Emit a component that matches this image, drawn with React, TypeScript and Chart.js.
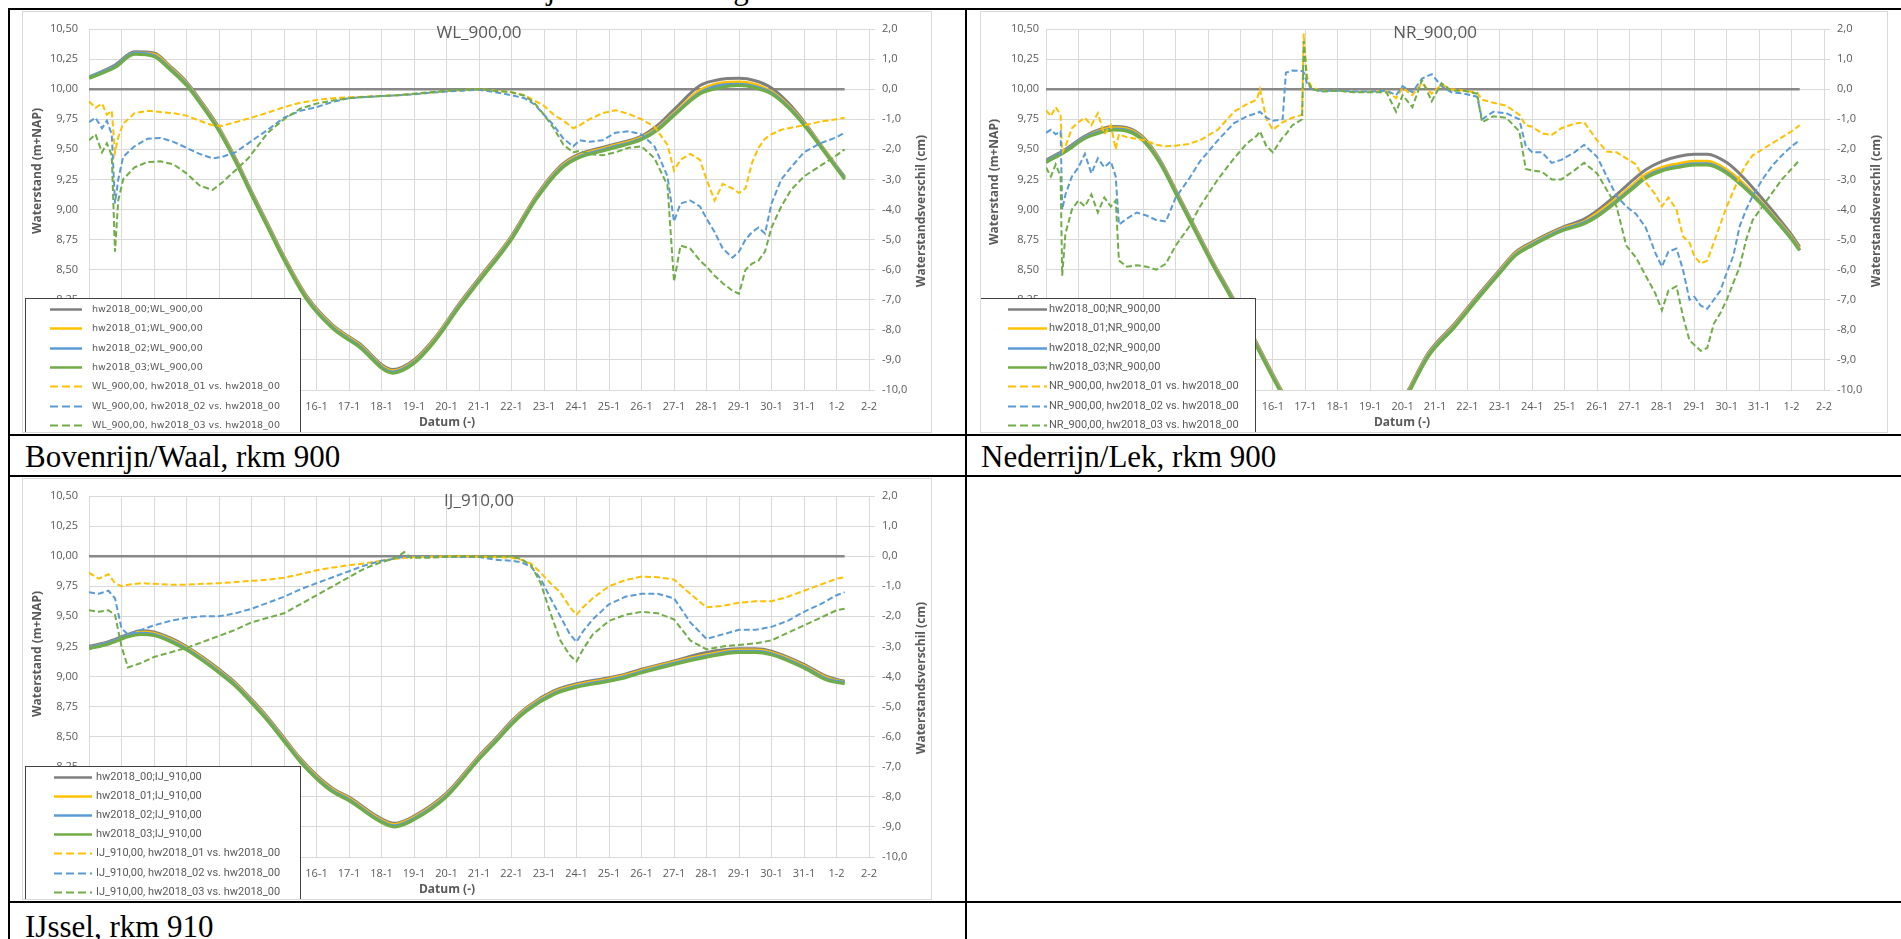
import React, { useEffect, useRef } from 'react';
import { Chart, registerables } from 'chart.js';

Chart.register(...registerables);

// ---------- axis / tick labels ----------
const X_TICK_LABELS = ['9-1','10-1','11-1','12-1','13-1','14-1','15-1','16-1','17-1','18-1','19-1','20-1','21-1','22-1','23-1','24-1','25-1','26-1','27-1','28-1','29-1','30-1','31-1','1-2','2-2'];
const LEFT_AXIS = { min: 7.5, max: 10.5, step: 0.25 };
const RIGHT_AXIS = { min: -10, max: 2, step: 1 };

// hw2018_00 vs hw2018_00 (reference difference = 0)
const BASE_DIFF_T = [0, 23.25];
const BASE_DIFF = [0, 0];

// ---------- WL_900,00 ----------
const WL_SOLID_T = [0, 0.8, 1.4, 2.0, 2.5, 3.0, 3.5, 4.0, 4.5, 5.0, 5.5, 6.0, 6.7, 7.5, 8.3, 9.35, 10.0, 10.6, 11.4, 12.0, 13.0, 13.75, 14.5, 15.0, 16.0, 17.0, 17.5, 18.0, 18.8, 19.4, 20.0, 20.5, 21.0, 21.5, 22.0, 22.7, 23.25];
const WL_00 = [10.10, 10.20, 10.31, 10.30, 10.19, 10.06, 9.88, 9.68, 9.43, 9.15, 8.88, 8.61, 8.28, 8.04, 7.89, 7.67, 7.75, 7.92, 8.22, 8.43, 8.78, 9.11, 9.36, 9.45, 9.53, 9.61, 9.70, 9.83, 10.03, 10.08, 10.09, 10.07, 10.01, 9.89, 9.73, 9.47, 9.27];
const WL_01 = [10.10, 10.19, 10.30, 10.29, 10.18, 10.05, 9.87, 9.67, 9.42, 9.14, 8.87, 8.60, 8.27, 8.03, 7.88, 7.66, 7.74, 7.91, 8.21, 8.42, 8.77, 9.10, 9.35, 9.44, 9.52, 9.60, 9.68, 9.80, 9.99, 10.05, 10.06, 10.04, 9.98, 9.87, 9.72, 9.47, 9.26];
const WL_02 = [10.10, 10.19, 10.30, 10.28, 10.17, 10.04, 9.86, 9.66, 9.41, 9.13, 8.86, 8.59, 8.26, 8.02, 7.87, 7.65, 7.73, 7.90, 8.20, 8.41, 8.76, 9.09, 9.34, 9.43, 9.51, 9.59, 9.67, 9.79, 9.97, 10.03, 10.04, 10.02, 9.97, 9.86, 9.71, 9.46, 9.26];
const WL_03 = [10.09, 10.18, 10.29, 10.27, 10.16, 10.03, 9.85, 9.65, 9.40, 9.12, 8.85, 8.58, 8.25, 8.01, 7.86, 7.64, 7.72, 7.89, 8.19, 8.40, 8.75, 9.08, 9.33, 9.42, 9.50, 9.58, 9.66, 9.78, 9.96, 10.01, 10.03, 10.01, 9.96, 9.85, 9.70, 9.45, 9.25];
const WL_DASH_T = [0, 0.2, 0.4, 0.55, 0.7, 0.8, 0.9, 1.05, 1.4, 1.8, 2.2, 2.6, 3.0, 3.4, 3.8, 4.1, 4.5, 4.9, 5.5, 6.0, 6.5, 7.0, 7.5, 8.0, 8.5, 9.0, 9.5, 10.0, 10.5, 11.0, 11.5, 12.0, 12.5, 13.0, 13.4, 13.7, 14.0, 14.3, 14.6, 14.9, 15.1, 15.4, 15.8, 16.2, 16.6, 17.0, 17.4, 17.8, 18.0, 18.2, 18.5, 18.8, 19.0, 19.25, 19.5, 19.8, 20.0, 20.2, 20.4, 20.6, 20.8, 21.0, 21.3, 21.6, 22.0, 22.5, 23.0, 23.25];
const WL_D01 = [-0.40, -0.62, -0.48, -0.85, -0.72, -2.10, -1.60, -1.15, -0.80, -0.72, -0.76, -0.80, -0.88, -1.05, -1.20, -1.22, -1.10, -0.98, -0.78, -0.60, -0.45, -0.36, -0.30, -0.27, -0.25, -0.22, -0.20, -0.16, -0.12, -0.07, -0.03, 0.00, -0.05, -0.10, -0.20, -0.38, -0.55, -0.85, -1.05, -1.30, -1.20, -1.00, -0.80, -0.70, -0.82, -1.00, -1.25, -1.85, -2.70, -2.35, -2.15, -2.35, -3.00, -3.70, -3.15, -3.30, -3.45, -3.30, -2.45, -1.95, -1.65, -1.50, -1.35, -1.28, -1.20, -1.08, -1.00, -0.95];
const WL_D02 = [-1.10, -0.95, -1.30, -1.05, -1.50, -3.80, -3.00, -2.25, -1.90, -1.65, -1.62, -1.75, -1.95, -2.15, -2.30, -2.25, -2.10, -1.80, -1.35, -0.95, -0.72, -0.60, -0.42, -0.30, -0.26, -0.23, -0.20, -0.17, -0.12, -0.08, -0.05, -0.02, -0.10, -0.20, -0.30, -0.50, -0.85, -1.20, -1.65, -1.90, -1.70, -1.75, -1.70, -1.45, -1.40, -1.50, -1.90, -2.90, -4.40, -3.80, -3.70, -3.90, -4.30, -4.75, -5.30, -5.60, -5.40, -5.00, -4.75, -4.60, -4.80, -3.80, -3.00, -2.60, -2.10, -1.80, -1.60, -1.45];
const WL_D03 = [-1.70, -1.50, -2.10, -1.80, -2.20, -5.40, -3.70, -3.00, -2.60, -2.42, -2.40, -2.50, -2.80, -3.20, -3.35, -3.10, -2.70, -2.30, -1.45, -1.00, -0.65, -0.48, -0.38, -0.30, -0.26, -0.23, -0.20, -0.15, -0.10, -0.05, -0.02, 0.00, -0.05, -0.10, -0.22, -0.45, -0.85, -1.30, -1.85, -2.10, -2.05, -2.15, -2.20, -2.10, -1.95, -1.90, -2.30, -3.20, -6.40, -5.20, -5.30, -5.70, -5.90, -6.20, -6.45, -6.70, -6.80, -6.00, -5.80, -5.70, -5.40, -4.60, -3.90, -3.35, -2.90, -2.55, -2.20, -2.00];

// ---------- NR_900,00 ----------
const NR_SOLID_T = [0, 0.6, 1.2, 1.7, 2.1, 2.5, 3.0, 3.5, 4.1, 4.6, 5.1, 5.8, 6.5, 7.2, 8.0, 9.0, 9.5, 10.0, 11.0, 11.2, 11.8, 12.6, 13.3, 14.0, 14.5, 15.0, 15.5, 16.0, 16.6, 17.0, 17.5, 18.0, 18.5, 19.0, 19.5, 20.0, 20.4, 21.0, 21.5, 22.0, 22.5, 23.0, 23.25];
const NR_00 = [9.41, 9.50, 9.61, 9.67, 9.69, 9.68, 9.60, 9.42, 9.11, 8.85, 8.59, 8.25, 7.89, 7.53, 7.18, 6.93, 6.91, 6.98, 7.41, 7.51, 7.81, 8.05, 8.28, 8.50, 8.65, 8.73, 8.80, 8.86, 8.92, 8.99, 9.10, 9.22, 9.33, 9.40, 9.44, 9.46, 9.46, 9.39, 9.27, 9.12, 8.96, 8.79, 8.69];
const NR_01 = [9.40, 9.49, 9.60, 9.66, 9.68, 9.67, 9.59, 9.41, 9.10, 8.84, 8.58, 8.24, 7.88, 7.52, 7.17, 6.92, 6.90, 6.97, 7.40, 7.50, 7.80, 8.04, 8.27, 8.49, 8.64, 8.72, 8.79, 8.85, 8.90, 8.97, 9.07, 9.18, 9.29, 9.35, 9.38, 9.40, 9.40, 9.33, 9.22, 9.08, 8.93, 8.77, 8.67];
const NR_02 = [9.40, 9.49, 9.60, 9.65, 9.67, 9.66, 9.58, 9.40, 9.09, 8.83, 8.57, 8.23, 7.87, 7.51, 7.16, 6.91, 6.89, 6.96, 7.39, 7.49, 7.79, 8.03, 8.26, 8.48, 8.63, 8.71, 8.78, 8.84, 8.89, 8.95, 9.05, 9.16, 9.27, 9.33, 9.36, 9.38, 9.38, 9.31, 9.20, 9.07, 8.92, 8.76, 8.66];
const NR_03 = [9.39, 9.48, 9.59, 9.64, 9.66, 9.65, 9.57, 9.39, 9.08, 8.82, 8.56, 8.22, 7.86, 7.50, 7.15, 6.90, 6.88, 6.95, 7.38, 7.48, 7.78, 8.02, 8.25, 8.47, 8.62, 8.70, 8.77, 8.83, 8.88, 8.94, 9.04, 9.15, 9.26, 9.32, 9.35, 9.37, 9.37, 9.30, 9.19, 9.06, 8.91, 8.75, 8.66];
const NR_DASH_T = [0, 0.15, 0.3, 0.45, 0.5, 0.6, 0.8, 1.0, 1.2, 1.4, 1.6, 1.8, 2.0, 2.15, 2.25, 2.5, 2.8, 3.1, 3.4, 3.7, 4.0, 4.4, 4.75, 5.3, 5.8, 6.2, 6.5, 6.6, 6.8, 7.0, 7.3, 7.4, 7.6, 7.9, 7.95, 8.05, 8.2, 8.5, 9.0, 9.5, 10.0, 10.5, 10.8, 11.0, 11.3, 11.6, 11.9, 12.2, 12.5, 12.9, 13.3, 13.45, 13.8, 14.2, 14.6, 14.8, 15.0, 15.3, 15.6, 15.9, 16.3, 16.6, 17.0, 17.3, 17.6, 17.9, 18.2, 18.5, 18.8, 19.0, 19.2, 19.45, 19.65, 19.85, 20.0, 20.2, 20.4, 20.6, 20.8, 21.0, 21.2, 21.4, 21.6, 21.8, 22.1, 22.4, 22.7, 23.0, 23.25];
const NR_D01 = [-0.70, -0.90, -0.60, -0.85, -2.10, -1.90, -1.30, -1.10, -0.95, -1.20, -0.80, -1.50, -1.20, -2.00, -1.50, -1.60, -1.65, -1.72, -1.85, -1.90, -1.88, -1.82, -1.70, -1.35, -0.75, -0.50, -0.35, 0.00, -1.00, -1.35, -1.10, -1.05, -0.95, -0.85, 1.85, 0.40, 0.05, -0.05, -0.05, -0.10, -0.08, -0.05, -0.30, 0.05, -0.20, 0.20, -0.15, 0.15, 0.00, -0.05, -0.12, -0.35, -0.45, -0.55, -0.85, -1.20, -1.25, -1.47, -1.52, -1.30, -1.15, -1.10, -1.70, -2.07, -2.10, -2.30, -2.50, -3.10, -3.50, -3.90, -3.60, -4.00, -4.90, -5.10, -5.55, -5.80, -5.70, -5.10, -4.50, -3.90, -3.40, -2.90, -2.50, -2.20, -2.00, -1.80, -1.60, -1.40, -1.20];
const NR_D02 = [-1.45, -1.35, -1.50, -1.40, -4.00, -3.50, -2.90, -2.60, -2.15, -2.80, -2.30, -2.60, -2.40, -2.90, -4.50, -4.30, -4.10, -4.20, -4.35, -4.40, -3.60, -3.00, -2.40, -1.70, -1.13, -0.90, -0.80, -0.75, -0.95, -1.05, -1.00, 0.55, 0.62, 0.60, 0.55, 0.20, 0.00, -0.05, -0.05, -0.08, -0.08, -0.05, -0.20, 0.10, -0.10, 0.35, 0.50, 0.10, -0.10, -0.15, -0.25, -1.00, -0.75, -0.80, -1.00, -1.90, -2.10, -2.10, -2.45, -2.35, -2.10, -1.85, -2.25, -2.90, -3.55, -3.90, -4.15, -4.60, -5.45, -5.90, -5.40, -5.30, -6.00, -7.00, -6.90, -7.20, -7.30, -7.00, -6.70, -6.10, -5.55, -4.55, -4.00, -3.55, -3.00, -2.55, -2.20, -1.90, -1.70];
const NR_D03 = [-2.60, -2.90, -2.50, -2.90, -6.20, -4.80, -4.00, -3.70, -3.90, -3.50, -4.10, -3.60, -3.90, -3.70, -5.70, -5.90, -5.85, -5.90, -6.00, -5.80, -5.20, -4.60, -3.90, -3.00, -2.30, -1.80, -1.55, -1.40, -1.90, -2.10, -1.60, -1.50, -1.20, -1.00, 1.60, 0.30, 0.00, -0.08, -0.05, -0.10, -0.10, -0.10, -0.75, -0.20, -0.60, 0.30, -0.40, 0.20, -0.05, -0.05, -0.15, -1.10, -0.90, -0.95, -1.40, -2.65, -2.70, -2.75, -3.00, -3.00, -2.70, -2.45, -2.80, -3.35, -3.90, -5.20, -5.60, -6.20, -6.80, -7.35, -6.70, -6.55, -7.55, -8.35, -8.50, -8.70, -8.60, -7.80, -7.45, -7.00, -6.45, -5.90, -5.00, -4.35, -3.90, -3.45, -3.00, -2.65, -2.35];

// ---------- IJ_910,00 ----------
const IJ_SOLID_T = [0, 0.6, 1.2, 1.6, 2.0, 2.5, 3.0, 3.5, 4.0, 4.5, 5.0, 5.5, 6.0, 6.5, 7.0, 7.5, 8.05, 8.85, 9.4, 10.0, 11.0, 12.0, 12.6, 13.0, 13.5, 14.3, 15.0, 16.0, 16.5, 17.0, 18.0, 19.0, 20.0, 20.5, 21.0, 22.0, 22.7, 23.25];
const IJ_00 = [9.25, 9.29, 9.35, 9.38, 9.37, 9.32, 9.25, 9.16, 9.06, 8.95, 8.81, 8.66, 8.49, 8.32, 8.18, 8.07, 7.99, 7.84, 7.78, 7.84, 8.03, 8.34, 8.51, 8.63, 8.75, 8.88, 8.94, 8.99, 9.02, 9.06, 9.13, 9.20, 9.23, 9.23, 9.21, 9.10, 9.00, 8.96];
const IJ_01 = [9.24, 9.28, 9.34, 9.37, 9.36, 9.31, 9.24, 9.15, 9.05, 8.94, 8.80, 8.65, 8.48, 8.31, 8.17, 8.06, 7.98, 7.83, 7.77, 7.83, 8.02, 8.33, 8.50, 8.62, 8.74, 8.87, 8.93, 8.98, 9.01, 9.05, 9.12, 9.18, 9.22, 9.22, 9.20, 9.09, 8.99, 8.95];
const IJ_02 = [9.24, 9.28, 9.34, 9.36, 9.35, 9.30, 9.23, 9.14, 9.04, 8.93, 8.79, 8.64, 8.47, 8.30, 8.16, 8.05, 7.97, 7.82, 7.76, 7.82, 8.01, 8.32, 8.49, 8.61, 8.73, 8.86, 8.92, 8.97, 9.00, 9.04, 9.11, 9.17, 9.21, 9.21, 9.19, 9.08, 8.98, 8.95];
const IJ_03 = [9.23, 9.27, 9.33, 9.35, 9.34, 9.29, 9.22, 9.13, 9.03, 8.92, 8.78, 8.63, 8.46, 8.29, 8.15, 8.04, 7.96, 7.81, 7.75, 7.81, 8.00, 8.31, 8.48, 8.60, 8.72, 8.85, 8.91, 8.96, 8.99, 9.03, 9.10, 9.16, 9.20, 9.20, 9.18, 9.07, 8.97, 8.94];
const IJ_DASH_T = [0, 0.3, 0.6, 0.8, 1.0, 1.2, 1.6, 2.0, 2.5, 3.0, 3.5, 4.0, 4.5, 5.0, 5.5, 6.0, 6.5, 7.0, 7.5, 8.0, 8.5, 9.0, 9.3, 9.5, 9.7, 9.9, 10.5, 11.0, 11.5, 12.0, 12.5, 13.0, 13.3, 13.6, 13.9, 14.2, 14.5, 14.8, 15.0, 15.2, 15.5, 16.0, 16.5, 17.0, 17.5, 18.0, 18.5, 19.0, 19.5, 20.0, 20.5, 21.0, 21.5, 22.0, 22.5, 23.0, 23.25];
const IJ_D01 = [-0.55, -0.75, -0.60, -0.90, -1.00, -0.95, -0.90, -0.92, -0.95, -0.95, -0.92, -0.90, -0.86, -0.82, -0.78, -0.72, -0.60, -0.47, -0.38, -0.30, -0.24, -0.15, -0.12, -0.08, -0.06, -0.04, -0.02, 0.00, 0.00, -0.02, -0.03, -0.05, -0.12, -0.25, -0.55, -0.90, -1.20, -1.70, -1.95, -1.70, -1.40, -1.00, -0.80, -0.68, -0.70, -0.78, -1.25, -1.70, -1.65, -1.55, -1.50, -1.50, -1.35, -1.15, -0.95, -0.75, -0.70];
const IJ_D02 = [-1.20, -1.25, -1.15, -1.40, -2.40, -2.60, -2.45, -2.30, -2.15, -2.05, -2.00, -2.00, -1.90, -1.75, -1.55, -1.35, -1.10, -0.90, -0.70, -0.50, -0.30, -0.15, -0.10, -0.05, -0.03, -0.02, -0.02, -0.02, -0.03, -0.03, -0.12, -0.15, -0.20, -0.35, -0.75, -1.40, -2.00, -2.60, -2.85, -2.50, -2.10, -1.60, -1.35, -1.25, -1.25, -1.40, -2.20, -2.75, -2.60, -2.45, -2.45, -2.35, -2.15, -1.85, -1.60, -1.30, -1.20];
const IJ_D03 = [-1.80, -1.85, -1.80, -1.95, -3.00, -3.70, -3.55, -3.35, -3.20, -3.05, -2.85, -2.65, -2.45, -2.20, -2.05, -1.90, -1.60, -1.30, -1.00, -0.70, -0.40, -0.20, -0.10, -0.02, 0.14, -0.05, -0.05, -0.02, 0.00, -0.02, -0.02, 0.00, -0.10, -0.30, -0.90, -1.90, -2.80, -3.30, -3.50, -3.10, -2.60, -2.15, -1.95, -1.85, -1.90, -2.10, -2.80, -3.10, -3.00, -2.95, -2.90, -2.80, -2.55, -2.30, -2.05, -1.80, -1.75];

// ---------- styling ----------
const C_GRAY = '#7f7f7f';
const C_YELLOW = '#ffc000';
const C_BLUE = '#5b9bd5';
const C_GREEN = '#70ad47';
const GRID = '#d9d9d9';
const TXT = '#595959';
const TICK_FONT = { family: '"Open Sans", "DejaVu Sans", sans-serif', size: 11 };

type Series = {
  name: string;
  solidT: number[]; s00: number[]; s01: number[]; s02: number[]; s03: number[];
  dashT: number[]; d01: number[]; d02: number[]; d03: number[];
};

const SERIES_WL: Series = { name: 'WL_900,00', solidT: WL_SOLID_T, s00: WL_00, s01: WL_01, s02: WL_02, s03: WL_03, dashT: WL_DASH_T, d01: WL_D01, d02: WL_D02, d03: WL_D03 };
const SERIES_NR: Series = { name: 'NR_900,00', solidT: NR_SOLID_T, s00: NR_00, s01: NR_01, s02: NR_02, s03: NR_03, dashT: NR_DASH_T, d01: NR_D01, d02: NR_D02, d03: NR_D03 };
const SERIES_IJ: Series = { name: 'IJ_910,00', solidT: IJ_SOLID_T, s00: IJ_00, s01: IJ_01, s02: IJ_02, s03: IJ_03, dashT: IJ_DASH_T, d01: IJ_D01, d02: IJ_D02, d03: IJ_D03 };

const pts = (t: number[], v: number[]) => t.map((x, i) => ({ x, y: v[i] }));

function buildDatasets(s: Series) {
  const dash = (label: string, data: number[], color: string, order: number) => ({
    label, data: pts(s.dashT, data), borderColor: color, borderWidth: 2, borderDash: [6, 3],
    pointRadius: 0, fill: false, yAxisID: 'yR', order, tension: 0,
  });
  const solid = (label: string, data: number[], color: string, order: number) => ({
    label, data: pts(s.solidT, data), borderColor: color, borderWidth: 3,
    pointRadius: 0, fill: false, yAxisID: 'yL', order, cubicInterpolationMode: 'monotone',
  });
  return [
    dash(`${s.name}, hw2018_03 vs. hw2018_00`, s.d03, C_GREEN, 1),
    dash(`${s.name}, hw2018_02 vs. hw2018_00`, s.d02, C_BLUE, 2),
    dash(`${s.name}, hw2018_01 vs. hw2018_00`, s.d01, C_YELLOW, 3),
    solid(`hw2018_03;${s.name}`, s.s03, C_GREEN, 4),
    solid(`hw2018_02;${s.name}`, s.s02, C_BLUE, 5),
    solid(`hw2018_01;${s.name}`, s.s01, C_YELLOW, 6),
    solid(`hw2018_00;${s.name}`, s.s00, C_GRAY, 7),
    {
      label: 'base', data: pts(BASE_DIFF_T, BASE_DIFF), borderColor: '#888888', borderWidth: 2.5,
      pointRadius: 0, fill: false, yAxisID: 'yR', order: 8,
    },
  ];
}

function legendEntries(s: Series) {
  return [
    { label: `hw2018_00;${s.name}`, color: C_GRAY, dashed: false },
    { label: `hw2018_01;${s.name}`, color: C_YELLOW, dashed: false },
    { label: `hw2018_02;${s.name}`, color: C_BLUE, dashed: false },
    { label: `hw2018_03;${s.name}`, color: C_GREEN, dashed: false },
    { label: `${s.name}, hw2018_01 vs. hw2018_00`, color: C_YELLOW, dashed: true },
    { label: `${s.name}, hw2018_02 vs. hw2018_00`, color: C_BLUE, dashed: true },
    { label: `${s.name}, hw2018_03 vs. hw2018_00`, color: C_GREEN, dashed: true },
  ];
}

type PanelCfg = {
  key: string;
  left: number; top: number; width: number; height: number;
  plot: { l: number; r: number; t: number; b: number };
  yPadL: number;
  titleY: number;
  legend: { x: number; y: number; w: number; h: number; rowY: number; rowH: number; s0: number; s1: number; tx: number; font: string };
  leftTitle: { x: number; y: number };
  rightTitle: { x: number; y: number };
  datum: { x: number; y: number };
  series: Series;
};

function overlayPlugin(cfg: PanelCfg) {
  return {
    id: 'overlay_' + cfg.key,
    afterDraw(chart: any) {
      const ctx = chart.ctx as CanvasRenderingContext2D;
      const ca = chart.chartArea;
      ctx.save();
      ctx.fillStyle = TXT;
      ctx.textAlign = 'center';
      ctx.textBaseline = 'middle';
      ctx.font = '17px "Open Sans", sans-serif';
      ctx.fillText(cfg.series.name, (ca.left + ca.right) / 2, cfg.titleY);
      ctx.font = 'bold 12px "Open Sans", sans-serif';
      ctx.fillText('Datum (-)', cfg.datum.x, cfg.datum.y);
      const titles: [string, { x: number; y: number }][] = [
        ['Waterstand (m+NAP)', cfg.leftTitle],
        ['Waterstandsverschil (cm)', cfg.rightTitle],
      ];
      for (const [txt, p] of titles) {
        ctx.save();
        ctx.translate(p.x, p.y);
        ctx.rotate(-Math.PI / 2);
        ctx.fillText(txt, 0, 0);
        ctx.restore();
      }
      const L = cfg.legend;
      ctx.fillStyle = '#ffffff';
      ctx.fillRect(L.x, L.y, L.w, L.h);
      ctx.strokeStyle = '#404040';
      ctx.lineWidth = 1;
      ctx.strokeRect(L.x + 0.5, L.y + 0.5, L.w - 1, L.h - 1);
      legendEntries(cfg.series).forEach((e, i) => {
        const y = Math.round(L.rowY + i * L.rowH) + 0.5;
        ctx.beginPath();
        ctx.strokeStyle = e.color;
        ctx.lineWidth = e.dashed ? 2 : 2.5;
        ctx.setLineDash(e.dashed ? [8, 4] : []);
        ctx.moveTo(L.s0, y);
        ctx.lineTo(L.s1, y);
        ctx.stroke();
        ctx.setLineDash([]);
        ctx.fillStyle = TXT;
        ctx.font = L.font;
        ctx.textAlign = 'left';
        ctx.textBaseline = 'middle';
        ctx.fillText(e.label, L.tx, y);
      });
      ctx.restore();
    },
  };
}

function Panel({ cfg }: { cfg: PanelCfg }) {
  const ref = useRef<HTMLCanvasElement>(null);
  useEffect(() => {
    const canvas = ref.current;
    if (!canvas) return;
    const chart = new Chart(canvas, {
      type: 'line',
      data: { datasets: buildDatasets(cfg.series) as any },
      options: {
        responsive: false,
        maintainAspectRatio: false,
        animation: false,
        devicePixelRatio: 1,
        layout: { padding: { top: cfg.plot.t, left: 0, right: 0, bottom: 0 } },
        plugins: { legend: { display: false }, tooltip: { enabled: false }, title: { display: false } },
        scales: {
          x: {
            type: 'linear', min: 0, max: 24,
            afterFit: (sc: any) => { sc.height = cfg.plot.b; },
            ticks: {
              stepSize: 1, autoSkip: false, maxRotation: 0, minRotation: 0, padding: 10,
              color: TXT, font: TICK_FONT,
              callback: (v: any) => X_TICK_LABELS[Math.round(Number(v))] ?? '',
            },
            grid: { color: GRID, lineWidth: 1, drawTicks: false },
            border: { color: GRID },
          },
          yL: {
            type: 'linear', position: 'left', min: LEFT_AXIS.min, max: LEFT_AXIS.max,
            afterFit: (sc: any) => { sc.width = cfg.plot.l; },
            ticks: {
              stepSize: LEFT_AXIS.step, padding: cfg.yPadL, color: TXT, font: TICK_FONT,
              callback: (v: any) => Number(v).toFixed(2).replace('.', ','),
            },
            grid: { color: GRID, lineWidth: 1, drawTicks: false },
            border: { display: false },
          },
          yR: {
            type: 'linear', position: 'right', min: RIGHT_AXIS.min, max: RIGHT_AXIS.max,
            afterFit: (sc: any) => { sc.width = cfg.plot.r; },
            ticks: {
              stepSize: RIGHT_AXIS.step, padding: 7, color: TXT, font: TICK_FONT,
              callback: (v: any) => {
                const n = Number(v);
                return (Math.abs(n) < 1e-9 ? 0 : n).toFixed(1).replace('.', ',');
              },
            },
            grid: { drawOnChartArea: false, drawTicks: true, tickLength: 6, color: GRID },
            border: { display: false },
          },
        },
      } as any,
      plugins: [overlayPlugin(cfg)],
    });
    return () => chart.destroy();
  }, [cfg]);
  return (
    <canvas
      ref={ref}
      width={cfg.width}
      height={cfg.height}
      style={{ position: 'absolute', left: cfg.left, top: cfg.top, width: cfg.width, height: cfg.height }}
    />
  );
}

const LEGEND_WIDE = '9.5px "DejaVu Sans", sans-serif';
const LEGEND_NARROW = '11px Roboto, "Liberation Sans Narrow", sans-serif';

const P1: PanelCfg = {
  key: 'wl', left: 22, top: 11, width: 910, height: 422,
  plot: { l: 67, r: 63, t: 18, b: 43 }, yPadL: 11, titleY: 22,
  legend: { x: 3, y: 287, w: 276, h: 135, rowY: 298, rowH: 19.3, s0: 28, s1: 60, tx: 70, font: LEGEND_WIDE },
  leftTitle: { x: 16, y: 160 }, rightTitle: { x: 900, y: 200 }, datum: { x: 425, y: 412 },
  series: SERIES_WL,
};
const P2: PanelCfg = {
  key: 'nr', left: 980, top: 11, width: 908, height: 422,
  plot: { l: 66, r: 64, t: 18, b: 43 }, yPadL: 7, titleY: 22,
  legend: { x: 0, y: 287, w: 276, h: 135, rowY: 298, rowH: 19.3, s0: 28, s1: 67, tx: 69, font: LEGEND_NARROW },
  leftTitle: { x: 15, y: 171 }, rightTitle: { x: 897, y: 200 }, datum: { x: 422, y: 412 },
  series: SERIES_NR,
};
const P3: PanelCfg = {
  key: 'ij', left: 22, top: 478, width: 910, height: 422,
  plot: { l: 67, r: 63, t: 18, b: 43 }, yPadL: 11, titleY: 23,
  legend: { x: 3, y: 288, w: 276, h: 134, rowY: 299, rowH: 19.1, s0: 32, s1: 70, tx: 74, font: LEGEND_NARROW },
  leftTitle: { x: 16, y: 176 }, rightTitle: { x: 900, y: 200 }, datum: { x: 425, y: 412 },
  series: SERIES_IJ,
};

const SERIF = '"Liberation Serif", "DejaVu Serif", serif';

function HLine({ y }: { y: number }) {
  return <div style={{ position: 'absolute', left: 8, top: y, width: 1893, height: 2, background: '#000' }} />;
}
function VLine({ x }: { x: number }) {
  return <div style={{ position: 'absolute', left: x, top: 8, width: 2, height: 931, background: '#000' }} />;
}
function Caption({ x, y, text }: { x: number; y: number; text: string }) {
  return (
    <div style={{ position: 'absolute', left: x, top: y, font: `31px ${SERIF}`, lineHeight: '31px', whiteSpace: 'nowrap', color: '#000' }}>
      {text}
    </div>
  );
}
function Frame({ cfg }: { cfg: PanelCfg }) {
  return (
    <div style={{ position: 'absolute', left: cfg.left, top: cfg.top, width: cfg.width, height: cfg.height, border: '1px solid #d9d9d9', boxSizing: 'border-box', pointerEvents: 'none' }} />
  );
}

export default function App() {
  return (
    <div style={{ position: 'absolute', left: 0, top: 0, width: 1901, height: 939, overflow: 'hidden', background: '#fff' }}>
      <Caption x={24} y={-27} text="Resultaten worden voor de riviertakken bij dezelfde rkm getoond." />
      <Panel cfg={P1} />
      <Panel cfg={P2} />
      <Panel cfg={P3} />
      <Frame cfg={P1} />
      <Frame cfg={P2} />
      <Frame cfg={P3} />
      <HLine y={8} />
      <HLine y={434} />
      <HLine y={475} />
      <HLine y={901} />
      <VLine x={8} />
      <VLine x={965} />
      <Caption x={25} y={441} text="Bovenrijn/Waal, rkm 900" />
      <Caption x={981} y={441} text="Nederrijn/Lek, rkm 900" />
      <Caption x={25} y={911} text="IJssel, rkm 910" />
    </div>
  );
}
